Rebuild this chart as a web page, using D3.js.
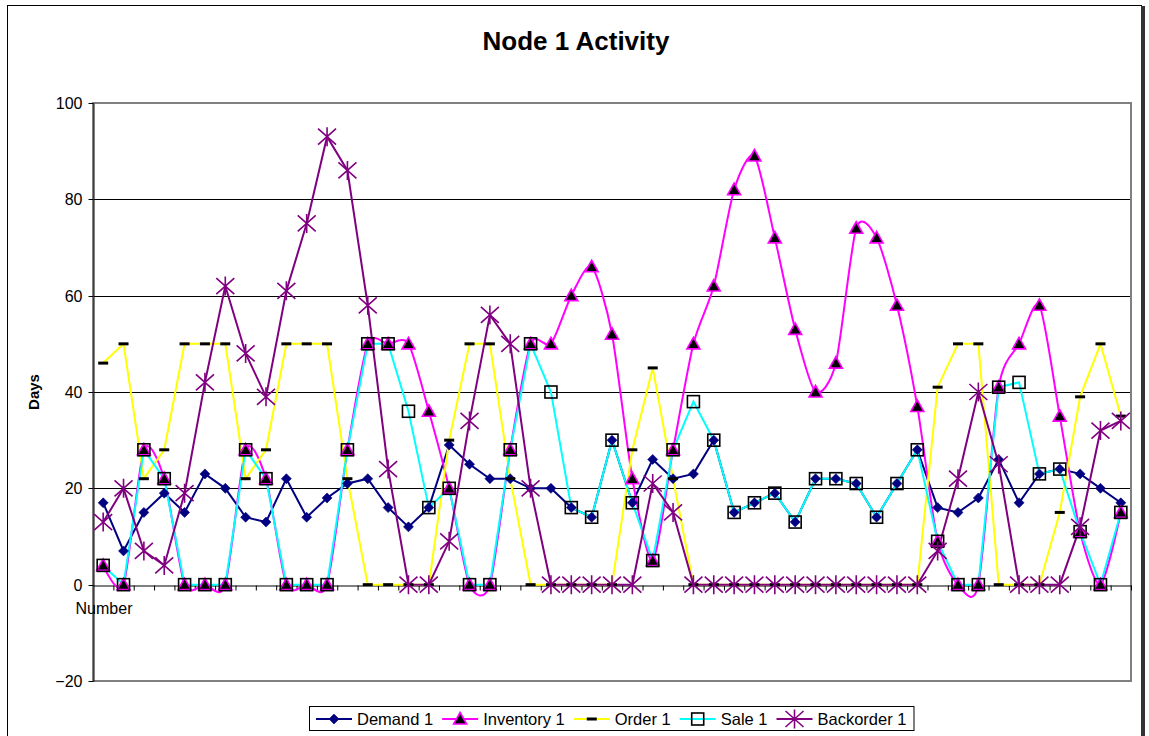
<!DOCTYPE html>
<html><head><meta charset="utf-8">
<script src="https://cdn.jsdelivr.net/npm/d3@7"></script>
<style>
body{margin:0;background:#fff}
svg{display:block}
text{font-family:Arial,"Liberation Sans",sans-serif;fill:#000}
</style>
</head><body>
<svg id="chart" width="1149" height="736"></svg>
<script>
// ---------- data ----------
const categories = [1,2,3,4,5,6,7,8,9,10,11,12,13,14,15,16,17,18,19,20,21,22,23,24,25,26,27,28,29,30,31,32,33,34,35,36,37,38,39,40,41,42,43,44,45,46,47,48,49,50,51];
const demand    = [17,7,15,19,15,23,20,14,13,22,14,18,21,22,16,12,16,29,25,22,22,20,20,16,14,30,17,26,22,23,30,15,17,19,13,22,22,21,14,21,28,16,15,18,26,17,23,24,23,20,17];
const inventory = [4,0,28,22,0,0,0,28,22,0,0,0,28,50,50,50,36,20,0,0,28,50,50,60,66,52,22,5,28,50,62,82,89,72,53,40,46,74,72,58,37,9,0,0,41,50,58,35,11,0,15];
const order     = [46,50,22,28,50,50,50,22,28,50,50,50,22,0,0,0,0,30,50,50,22,0,0,0,0,0,28,45,22,0,0,0,0,0,0,0,0,0,0,0,0,41,50,50,0,0,0,15,39,50,35];
const sale      = [4,0,28,22,0,0,0,28,22,0,0,0,28,50,50,36,16,20,0,0,28,50,40,16,14,30,17,5,28,38,30,15,17,19,13,22,22,21,14,21,28,9,0,0,41,42,23,24,11,0,15];
const backorder = [13,20,7,4,19,42,62,48,39,61,75,93,86,58,24,0,0,9,34,56,50,20,0,0,0,0,0,21,15,0,0,0,0,0,0,0,0,0,0,0,0,7,22,40,25,0,0,0,12,32,34];
const seriesNames = ["Demand 1","Inventory 1","Order 1","Sale 1","Backorder 1"];
const yTicks = [-20,0,20,40,60,80,100];
const gridValues = [20,40,60,80];
const titleText = "Node 1 Activity";
const yTitle = "Days";
const xTitle = "Number";

// ---------- layout ----------
const svg = d3.select("#chart");
const P = {left:93, top:103, right:1131, bottom:681};
const x = d3.scaleBand().domain(categories).range([P.left, P.right]);
const cx = c => x(c) + x.bandwidth()/2;
const y = d3.scaleLinear().domain([-20,100]).range([P.bottom, P.top]);
const crisp = v => Math.round(v) + 0.5;

// outer chart border
svg.append("rect").attr("x",7.5).attr("y",5.5).attr("width",1134).attr("height",760)
  .attr("fill","#fff").attr("stroke","#000").attr("stroke-width",1);
svg.append("rect").attr("x",1141).attr("y",6).attr("width",4).attr("height",740).attr("fill","#333");

// title
svg.append("text").attr("x",576).attr("y",50).attr("text-anchor","middle")
  .attr("font-size",26).attr("font-weight","bold").text(titleText);

// gridlines
svg.append("g").selectAll("line").data(gridValues).join("line")
  .attr("x1",P.left).attr("x2",P.right)
  .attr("y1",d=>crisp(y(d))).attr("y2",d=>crisp(y(d)))
  .attr("stroke","#000").attr("stroke-width",1);

// plot area border
svg.append("rect").attr("x",P.left).attr("y",crisp(y(100))-0.5).attr("width",P.right-P.left)
  .attr("height",y(-20)-y(100)).attr("fill","none").attr("stroke","#808080").attr("stroke-width",2);

// y axis
const yAxis = d3.axisLeft(y).tickValues(yTicks).tickSize(5).tickSizeOuter(0).tickPadding(6);
const gy = svg.append("g").attr("transform",`translate(${crisp(P.left)},0)`).call(yAxis);
gy.selectAll("text").attr("font-size",16).attr("font-family","Arial, 'Liberation Sans', sans-serif");
gy.selectAll("line,path").attr("stroke","#000");
gy.selectAll(".tick").attr("transform",d=>`translate(0,${crisp(y(d))})`);

// category axis at zero (ticks between categories)
const xb = d3.scaleLinear().domain([0,categories.length]).range([P.left,P.right]);
const xAxis = d3.axisBottom(xb).tickValues(categories.map((c,i)=>i+1)).tickSize(5).tickSizeOuter(0).tickFormat("");
const gx = svg.append("g").attr("transform",`translate(0,${crisp(y(0))})`).call(xAxis);
gx.selectAll("line,path").attr("stroke","#000");

// axis titles
svg.append("text").attr("transform",`translate(39,${(P.top+P.bottom)/2}) rotate(-90)`)
  .attr("text-anchor","middle").attr("font-size",15).attr("font-weight","bold").text(yTitle);
svg.append("text").attr("x",104).attr("y",614).attr("text-anchor","middle")
  .attr("font-size",16).text(xTitle);

// ---------- markers ----------
const markers = {
  diamond: g => g.append("path").attr("d","M0,-5L5,0L0,5L-5,0Z").attr("fill","#000080").attr("stroke","#000080").attr("stroke-width",0.6),
  triangle: g => g.append("path").attr("d","M0,-6.5L6.5,5L-6.5,5Z").attr("fill","#000").attr("stroke","#ff00ff").attr("stroke-width",1.6),
  dash: g => g.append("rect").attr("x",-5).attr("y",-1.5).attr("width",10).attr("height",3).attr("fill","#000"),
  square: g => g.append("rect").attr("x",-6).attr("y",-6).attr("width",12).attr("height",12).attr("fill","none").attr("stroke","#000").attr("stroke-width",1.6),
  star: g => g.append("path").attr("d","M-9,-8L9,8M-9,8L9,-8M0,-9.5L0,9.5").attr("fill","none").attr("stroke","#800080").attr("stroke-width",1.6)
};

const series = [
  {name:seriesNames[0], values:demand,    color:"#000080", marker:"diamond",  curve:d3.curveLinear},
  {name:seriesNames[1], values:inventory, color:"#ff00ff", marker:"triangle", curve:d3.curveCardinal.tension(0.25)},
  {name:seriesNames[2], values:order,     color:"#ffff00", marker:"dash",     curve:d3.curveLinear},
  {name:seriesNames[3], values:sale,      color:"#00ffff", marker:"square",   curve:d3.curveLinear},
  {name:seriesNames[4], values:backorder, color:"#800080", marker:"star",     curve:d3.curveLinear}
];

const linesG = svg.append("g");
const marksG = svg.append("g");
series.forEach(s => {
  const pts = s.values.map((v,i)=>[cx(categories[i]), y(v)]);
  const line = d3.line().curve(s.curve);
  linesG.append("path").attr("d",line(pts)).attr("fill","none").attr("stroke",s.color).attr("stroke-width",2);
  const g = marksG.append("g");
  pts.forEach(p => {
    const m = g.append("g").attr("transform",`translate(${p[0]},${p[1]})`);
    markers[s.marker](m);
  });
});

// ---------- legend ----------
const lg = svg.append("g");
const box = lg.append("rect").attr("fill","#fff").attr("stroke","#000").attr("stroke-width",1);
let xp = 6;
series.forEach(s => {
  const it = lg.append("g").attr("transform",`translate(${xp},0)`);
  it.append("line").attr("x1",0).attr("x2",36).attr("y1",0).attr("y2",0).attr("stroke",s.color).attr("stroke-width",2);
  markers[s.marker](it.append("g").attr("transform","translate(18,0)"));
  const t = it.append("text").attr("x",41).attr("y",0).attr("dy","0.36em").attr("font-size",16.5).text(s.name);
  xp += 41 + t.node().getComputedTextLength() + 9;
});
const bw = xp - 9 + 8;
const bx = Math.round((P.left+P.right)/2 - bw/2);
box.attr("x",-0.5).attr("y",-12.5).attr("width",bw).attr("height",24);
lg.attr("transform",`translate(${bx},719)`);
</script>
</body></html>
